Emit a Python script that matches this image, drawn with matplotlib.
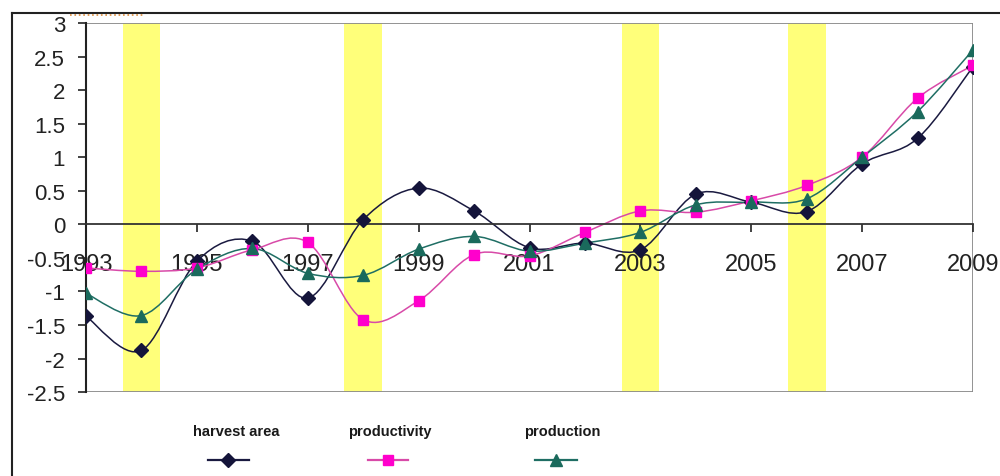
import numpy as np
import matplotlib
matplotlib.use("Agg")
import matplotlib.pyplot as plt
from matplotlib.path import Path
from matplotlib.patches import PathPatch, Rectangle
from matplotlib.lines import Line2D

plt.rcParams["font.family"] = ["Liberation Sans", "DejaVu Sans"]

years = list(range(1993, 2010))
harvest_area = [-1.37, -1.88, -0.55, -0.25, -1.10, 0.07, 0.54, 0.20, -0.35,
                -0.28, -0.38, 0.45, 0.33, 0.19, 0.90, 1.28, 2.35]
productivity = [-0.65, -0.70, -0.65, -0.38, -0.27, -1.42, -1.14, -0.45, -0.47,
                -0.12, 0.20, 0.18, 0.35, 0.58, 1.00, 1.88, 2.37]
production = [-1.03, -1.36, -0.67, -0.36, -0.73, -0.76, -0.37, -0.18, -0.40,
              -0.28, -0.12, 0.29, 0.33, 0.38, 1.00, 1.68, 2.60]
shaded_years = [1994, 1998, 2003, 2006]
xtick_years = list(range(1993, 2010, 2))
yticks = [-2.5, -2, -1.5, -1, -0.5, 0, 0.5, 1, 1.5, 2, 2.5, 3]

series = [
    ("harvest area", harvest_area, "#1a1a40", "#14143a", "D", 7),
    ("productivity", productivity, "#d84aa8", "#ff00cc", "s", 7.5),
    ("production", production, "#1f6e64", "#1a6a5c", "^", 8),
]


def smooth_path(xs, ys):
    """Bezier path through the points, like a smoothed spreadsheet line"""
    pts = np.column_stack([xs, ys]).astype(float)
    verts = [pts[0]]
    codes = [Path.MOVETO]
    n = len(pts)
    for i in range(n - 1):
        p0 = pts[max(i - 1, 0)]
        p1 = pts[i]
        p2 = pts[i + 1]
        p3 = pts[min(i + 2, n - 1)]
        c1 = p1 + (p2 - p0) / 6.0
        c2 = p2 - (p3 - p1) / 6.0
        verts += [c1, c2, p2]
        codes += [Path.CURVE4] * 3
    return Path(verts, codes)


fig = plt.figure(figsize=(10, 4.77), dpi=100)
ax = fig.add_axes([0.086, 0.176, 0.887, 0.7736])
ax.set_xlim(1993, 2009)
ax.set_ylim(-2.5, 3)

for yr in shaded_years:
    ax.axvspan(yr - 0.34, yr + 0.34, color="#ffff7a", lw=0, zorder=0.5)

for label, vals, lc, mc, mk, ms in series:
    ax.add_patch(PathPatch(smooth_path(years, vals), fill=False,
                           edgecolor=lc, lw=1.1, zorder=2))
    ax.plot(years, vals, linestyle="none", marker=mk, markersize=ms,
            color=mc, markeredgecolor=mc, zorder=3)

# x axis sits on zero, plot frame drawn as a grey box
ax.spines["bottom"].set_position(("data", 0))
ax.spines["bottom"].set_color("#333333")
ax.spines["bottom"].set_linewidth(1.3)
ax.spines["left"].set_color("#222222")
ax.spines["left"].set_linewidth(1.5)
ax.spines["top"].set_visible(False)
ax.spines["right"].set_visible(False)
ax.add_patch(Rectangle((0, 0), 1, 1, transform=ax.transAxes, fill=False,
                       edgecolor="#8a8a8a", lw=1.3, zorder=0.8))

ax.set_xticks(xtick_years)
ax.set_xticklabels([str(y) for y in xtick_years])
ax.set_yticks(yticks)
ax.set_yticklabels(["%g" % v for v in yticks])
ax.tick_params(axis="x", direction="out", length=6, width=1.2, pad=15,
               labelsize=17, colors="#222222")
ax.tick_params(axis="y", direction="out", length=6, width=1.2, pad=9,
               labelsize=16, colors="#222222")

# legend: names on top, line samples underneath
legend_pos = [(0.236, 0.208, 0.249), (0.390, 0.368, 0.408), (0.562, 0.535, 0.577)]
for (label, vals, lc, mc, mk, ms), (tx, x0, x1) in zip(series, legend_pos):
    fig.text(tx, 0.094, label, ha="center", va="center", fontsize=10.5,
             fontweight="bold", color="#1a1a1a")
    fig.add_artist(Line2D([x0, x1], [0.0335, 0.0335], color=lc, lw=1.6))
    fig.add_artist(Line2D([(x0 + x1) / 2], [0.0335], marker=mk, markersize=ms,
                          color=mc, linestyle="none"))

# outer chart border
fig.add_artist(Line2D([0.012, 1.0], [1 - 14 / 477, 1 - 14 / 477],
                      color="#222222", lw=1.5))
fig.add_artist(Line2D([0.012, 0.012], [0.0, 1 - 14 / 477],
                      color="#222222", lw=1.5))
fig.add_artist(Line2D([0.070, 0.143], [1 - 16 / 477, 1 - 16 / 477],
                      color="#d98a3a", lw=1.2, linestyle=":"))

fig.savefig("out.png", dpi=100)
